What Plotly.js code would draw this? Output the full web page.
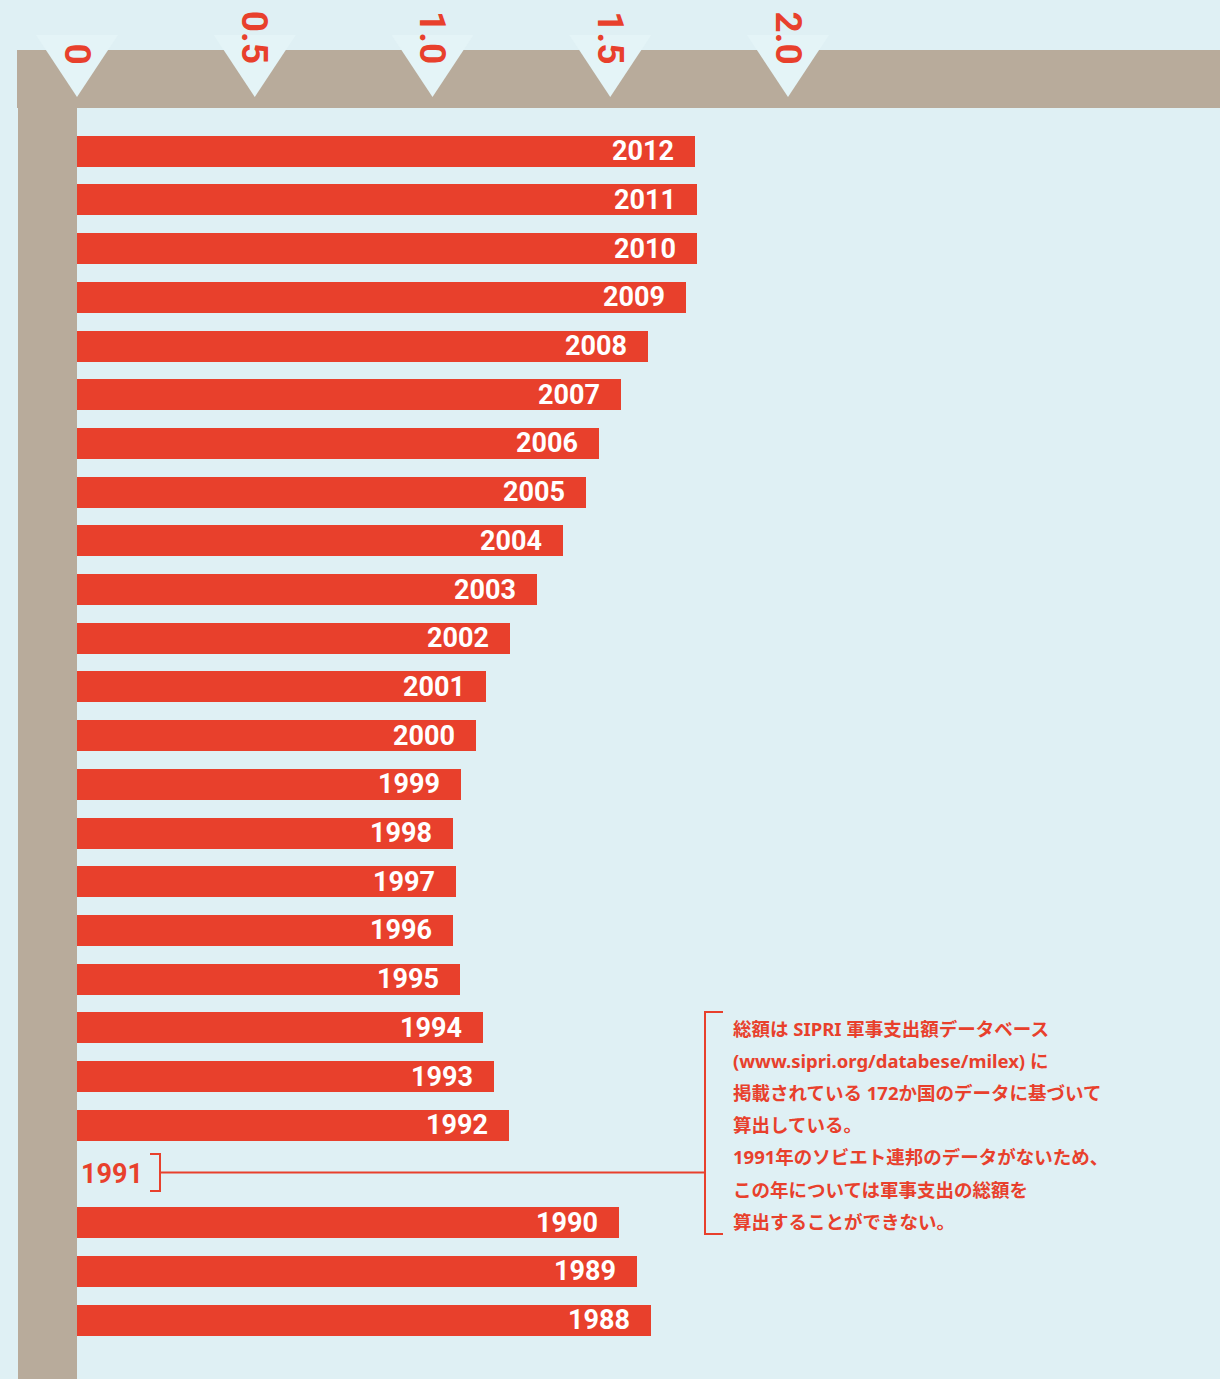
<!DOCTYPE html>
<html>
<head>
<meta charset="utf-8">
<script src="https://cdn.plot.ly/plotly-3.0.1.min.js"></script>
<style>
  html, body { margin: 0; padding: 0; background: #dff0f4; }
  #chart { width: 1220px; height: 1379px; }
</style>
</head>
<body>
<div id="chart"></div>
<script>
// ---- data (world military expenditure, trillion USD) ----
const years = [2012, 2011, 2010, 2009, 2008, 2007, 2006, 2005, 2004, 2003, 2002, 2001, 2000,
               1999, 1998, 1997, 1996, 1995, 1994, 1993, 1992, 1991, 1990, 1989, 1988];
const spending = [1.738, 1.744, 1.744, 1.713, 1.606, 1.530, 1.468, 1.432, 1.367, 1.294, 1.218, 1.150, 1.122,
                  1.080, 1.058, 1.066, 1.058, 1.077, 1.142, 1.173, 1.215, null, 1.525, 1.575, 1.615];
const tickValues = [0, 0.5, 1.0, 1.5, 2.0];
const tickLabels = ['0', '0.5', '1.0', '1.5', '2.0'];
const noteLines = [
  '総額は SIPRI 軍事支出額データベース',
  '(www.sipri.org/databese/milex) に',
  '掲載されている 172か国のデータに基づいて',
  '算出している。',
  '1991年のソビエト連邦のデータがないため、',
  'この年については軍事支出の総額を',
  '算出することができない。'
];

// ---- styles ----
const W = 1220, H = 1379;
const RED = '#e8402c', BEIGE = '#b8ab9b', BG = '#dff0f4', TRI = '#e4f4f7';
const px = v => v / W;          // pixel x -> paper
const py = v => 1 - v / H;      // pixel y -> paper
const numFont = 'Roboto, "Liberation Sans", sans-serif';

const bar = {
  type: 'bar', orientation: 'h',
  x: spending, y: years, base: 0,
  width: 0.637,
  marker: { color: RED, line: { width: 0 } },
  hoverinfo: 'skip'
};

const shapes = [
  // top band
  { type: 'rect', xref: 'paper', yref: 'paper', x0: px(17), x1: 1, y0: py(108), y1: py(50),
    fillcolor: BEIGE, line: { width: 0 }, layer: 'below' },
  // left band
  { type: 'rect', xref: 'paper', yref: 'paper', x0: px(18), x1: px(77), y0: 0, y1: py(50),
    fillcolor: BEIGE, line: { width: 0 }, layer: 'below' }
];
// triangles at ticks
const halfW = 41 / 355.5;
tickValues.forEach(t => {
  shapes.push({
    type: 'path', xref: 'x', yref: 'paper', layer: 'below',
    path: `M ${t - halfW},${py(35)} L ${t + halfW},${py(35)} L ${t},${py(97)} Z`,
    fillcolor: TRI, line: { width: 0 }
  });
});
// brackets for missing 1991
const bl = { color: RED, width: 2 };
shapes.push(
  { type: 'line', xref: 'paper', yref: 'paper', x0: px(150), x1: px(161), y0: py(1154), y1: py(1154), line: bl },
  { type: 'line', xref: 'paper', yref: 'paper', x0: px(150), x1: px(161), y0: py(1191), y1: py(1191), line: bl },
  { type: 'line', xref: 'paper', yref: 'paper', x0: px(160), x1: px(160), y0: py(1154), y1: py(1191), line: bl },
  { type: 'line', xref: 'paper', yref: 'paper', x0: px(160), x1: px(705), y0: py(1172.5), y1: py(1172.5), line: bl },
  { type: 'line', xref: 'paper', yref: 'paper', x0: px(705), x1: px(705), y0: py(1011.5), y1: py(1234.5), line: bl },
  { type: 'line', xref: 'paper', yref: 'paper', x0: px(704), x1: px(723), y0: py(1012), y1: py(1012), line: bl },
  { type: 'line', xref: 'paper', yref: 'paper', x0: px(704), x1: px(723), y0: py(1234), y1: py(1234), line: bl }
);

const annotations = [];
// tick labels (rotated)
tickValues.forEach((t, i) => {
  annotations.push({
    x: t, xref: 'x', y: py(66), yref: 'paper', xanchor: 'center', yanchor: 'bottom',
    text: '<b>' + tickLabels[i] + '</b>', textangle: 90, showarrow: false,
    font: { family: numFont, size: 37, color: RED }
  });
});
// year labels inside bars / next to axis for missing
years.forEach((yr, i) => {
  if (spending[i] === null) {
    annotations.push({
      x: 0, xref: 'x', y: yr, yref: 'y', xanchor: 'left', yanchor: 'middle', xshift: 2,
      text: '<b>' + yr + '</b>', showarrow: false,
      font: { family: numFont, size: 27, color: RED }
    });
  } else {
    annotations.push({
      x: spending[i], xref: 'x', y: yr, yref: 'y', xanchor: 'right', yanchor: 'middle', xshift: -19,
      text: '<b>' + yr + '</b>', showarrow: false,
      font: { family: numFont, size: 27, color: '#ffffff' }
    });
  }
});
// note text
noteLines.forEach((line, i) => {
  annotations.push({
    x: px(731), xref: 'paper', y: py(1028 + 32.2 * i), yref: 'paper',
    xanchor: 'left', yanchor: 'middle', text: '<b>' + line + '</b>', showarrow: false,
    font: { family: '"Noto Sans", "Noto Sans CJK JP", sans-serif', size: 18.5, color: RED }
  });
});

const layout = {
  width: W, height: H,
  margin: { l: 0, r: 0, t: 0, b: 0, pad: 0 },
  paper_bgcolor: BG, plot_bgcolor: BG,
  showlegend: false,
  xaxis: { range: [-77 / 355.5, 1143 / 355.5], visible: false, fixedrange: true },
  yaxis: { range: [1986.789, 2015.105], visible: false, fixedrange: true },
  shapes: shapes,
  annotations: annotations,
  bargap: 0
};

Plotly.newPlot('chart', [bar], layout, { displayModeBar: false, staticPlot: true });
</script>
</body>
</html>
